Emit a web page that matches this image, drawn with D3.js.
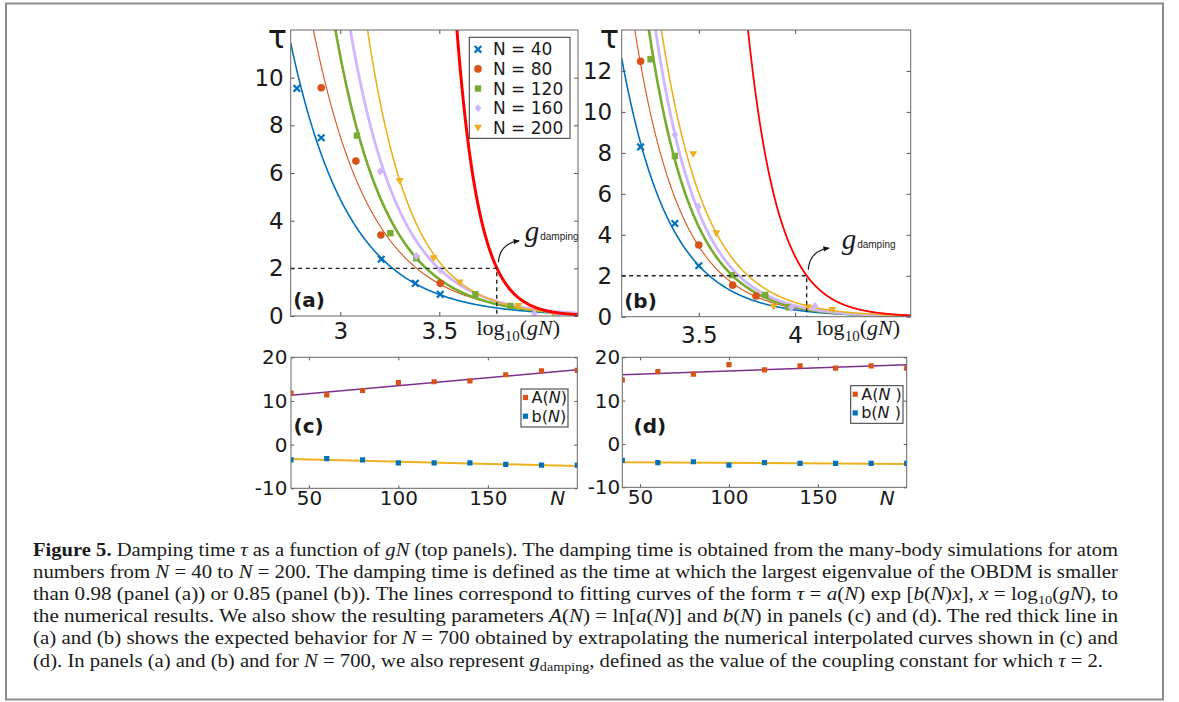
<!doctype html>
<html lang="en">
<head>
<meta charset="utf-8">
<script src="https://cdn.jsdelivr.net/npm/d3@7/dist/d3.min.js"></script>
<style>
body { margin: 0; background: #fff; }
svg text { font-family: "DejaVu Sans", sans-serif; fill: #1a1a1a; }
</style>
</head>
<body>
<script>
// ---- values ----
var seriesN = [40, 80, 120, 160, 200];
var extraN = 700;

// panel (a): tau against log10(gN)
var a40x = [2.781, 2.904, 3.207, 3.379, 3.505],  a40y = [9.55, 7.48, 2.38, 1.37, 0.91];
var a80x = [2.904, 3.079, 3.205, 3.505],         a80y = [9.58, 6.50, 3.40, 1.37];
var a120x = [3.084, 3.253, 3.384, 3.682, 3.859], a120y = [7.57, 3.47, 2.42, 0.91, 0.42];
var a160x = [3.202, 3.384, 3.505, 3.98, 4.10],   a160y = [6.06, 2.52, 1.93, 0.11, 0.08];
var a200x = [3.30, 3.471, 3.603, 3.90, 4.077],   a200y = [5.66, 2.42, 1.41, 0.42, 0.08];
// fitted curves tau = exp(lnA + b x), last entry is N = 700
var fitA_lnA = [11.76, 12.34, 14.12, 14.75, 16.92, 34.32];
var fitA_b   = [-3.39, -3.44, -3.91, -4.02, -4.60, -8.87];
var gDampA = 3.79;

// panel (b)
var b40x = [3.198, 3.376, 3.50],                 b40y = [8.29, 4.55, 2.49];
var b80x = [3.198, 3.50, 3.676, 3.797],          b80y = [12.47, 3.50, 1.54, 1.01];
var b120x = [3.25, 3.376, 3.672, 3.845, 3.966],  b120y = [12.57, 7.85, 2.03, 1.06, 0.46];
var b160x = [3.376, 3.497, 3.98, 4.103],         b160y = [8.89, 5.37, 0.45, 0.52];
var b200x = [3.471, 3.591, 3.888, 4.066, 4.193], b200y = [7.93, 4.07, 0.49, 0.46, 0.33];
var fitB_lnA = [15.09, 16.04, 17.16, 17.38, 16.92, 26.6];
var fitB_b   = [-4.05, -4.23, -4.48, -4.50, -4.32, -6.38];
var gDampB = 4.06;

// panels (c) and (d): fit parameters against N
var paramN = [40, 60, 80, 100, 120, 140, 160, 180, 200];
var cA = [11.8, 11.4, 12.4, 14.2, 14.4, 14.6, 16.0, 16.9, 17.0];
var cB = [-3.5, -3.2, -3.5, -4.2, -4.2, -4.2, -4.5, -4.7, -4.7];
var dA = [14.8, 16.7, 16.1, 18.3, 17.1, 18.0, 17.5, 18.0, 17.5];
var dB = [-3.8, -4.3, -4.1, -4.9, -4.3, -4.5, -4.5, -4.5, -4.5];
var lineN = [40, 200];
var cFitA = [11.3, 17.15], cFitB = [-3.3, -4.9];
var dFitA = [16.0, 18.3],  dFitB = [-4.2, -4.6];

var tickA = [3, 3.5], tickB = [3.5, 4], tickN = [50, 100, 150];
var tauTicksA = [0, 2, 4, 6, 8, 10], tauTicksB = [0, 2, 4, 6, 8, 10, 12];
var parTicks = [-10, 0, 10, 20];

// ---- styles ----
var col = ["#0072BD", "#D95319", "#77AC30", "#CFB6FF", "#EDB120"];
var shape = ["x", "o", "s", "d", "v"];
var lw = [1.6, 1.1, 2.6, 2.8, 1.6];

var svg = d3.select("body").append("svg").attr("width", 1179).attr("height", 702);
var defs = svg.append("defs");
defs.append("marker").attr("id", "arrow").attr("viewBox", "0 0 10 10")
    .attr("refX", 8).attr("refY", 5).attr("markerWidth", 6).attr("markerHeight", 6)
    .attr("orient", "auto")
  .append("path").attr("d", "M0,1 L10,5 L0,9 Z").attr("fill", "#111");

// figure frame
svg.append("rect").attr("x", 6).attr("y", 3.5).attr("width", 1157).attr("height", 696)
    .attr("fill", "none").attr("stroke", "#8c8c8c").attr("stroke-width", 2);

var clipCount = 0;
function makePanel(box, xd, yd, xt, yt, st) {
  var x = d3.scaleLinear().domain(xd).range([box.left, box.right]);
  var y = d3.scaleLinear().domain(yd).range([box.bottom, box.top]);
  var id = "clip" + (clipCount++);
  defs.append("clipPath").attr("id", id).append("rect")
      .attr("x", box.left).attr("y", box.top)
      .attr("width", box.right - box.left).attr("height", box.bottom - box.top);
  var fmt = function(d) { return String(d); };
  var none = function() { return ""; };
  function style(sel) {
    sel.select(".domain").remove();
    sel.selectAll(".tick line").attr("stroke", "#555");
    sel.selectAll(".tick text").attr("fill", "#1a1a1a")
       .style("font-size", st.fs + "px").style("font-family", '"DejaVu Sans", sans-serif');
  }
  svg.append("g").attr("transform", "translate(0," + box.bottom + ")")
     .call(d3.axisBottom(x).tickValues(xt).tickFormat(fmt).tickSizeInner(-st.tick).tickSizeOuter(0).tickPadding(st.padX))
     .call(style);
  svg.append("g").attr("transform", "translate(0," + box.top + ")")
     .call(d3.axisTop(x).tickValues(xt).tickFormat(none).tickSizeInner(-st.tick).tickSizeOuter(0))
     .call(style);
  svg.append("g").attr("transform", "translate(" + box.left + ",0)")
     .call(d3.axisLeft(y).tickValues(yt).tickFormat(fmt).tickSizeInner(-st.tick).tickSizeOuter(0).tickPadding(st.padY))
     .call(style);
  svg.append("g").attr("transform", "translate(" + box.right + ",0)")
     .call(d3.axisRight(y).tickValues(yt).tickFormat(none).tickSizeInner(-st.tick).tickSizeOuter(0))
     .call(style);
  var plot = svg.append("g").attr("clip-path", "url(#" + id + ")");
  return {x: x, y: y, plot: plot, box: box};
}
function frame(p) {
  var b = p.box;
  svg.append("rect").attr("x", b.left).attr("y", b.top)
     .attr("width", b.right - b.left).attr("height", b.bottom - b.top)
     .attr("fill", "none").attr("stroke", "#666").attr("stroke-width", 1);
}

function marker(g, s, cx, cy, c) {
  var m;
  if (s === "x") {
    m = g.append("path").attr("d", "M-3.3,-3.3L3.3,3.3M-3.3,3.3L3.3,-3.3")
         .attr("stroke", c).attr("stroke-width", 2.2).attr("fill", "none");
  } else if (s === "o") {
    m = g.append("circle").attr("r", 3.8).attr("fill", c);
  } else if (s === "s") {
    m = g.append("path").attr("d", "M-3.2,-3.2H3.2V3.2H-3.2Z").attr("fill", c);
  } else if (s === "d") {
    m = g.append("path").attr("d", "M0,-4.2L3.3,0L0,4.2L-3.3,0Z").attr("fill", c);
  } else if (s === "v") {
    m = g.append("path").attr("d", "M-4,-3L4,-3L0,3.8Z").attr("fill", c);
  } else {
    m = g.append("path").attr("d", "M-2.6,-2.6H2.6V2.6H-2.6Z").attr("fill", c);
  }
  m.attr("transform", "translate(" + cx + "," + cy + ")");
}

function fitCurve(p, lnA, b, c, w) {
  var d = p.x.domain(), top = p.y.domain()[1] * 2;
  var xs = d3.range(d[0], d[1] + 0.002, 0.004);
  p.plot.append("path").datum(xs)
    .attr("d", d3.line().x(function(v) { return p.x(v); })
                        .y(function(v) { return p.y(Math.min(top, Math.exp(lnA + b * v))); }))
    .attr("fill", "none").attr("stroke", c).attr("stroke-width", w);
}

function tauPanel(p, xs, ys, lnA, bb, gd, redW, lab, tauX, logX, gOff) {
  var i;
  for (i = 0; i < 5; i++) fitCurve(p, lnA[i], bb[i], col[i], lw[i]);
  for (i = 0; i < 5; i++) {
    for (var k = 0; k < xs[i].length; k++) marker(p.plot, shape[i], p.x(xs[i][k]), p.y(ys[i][k]), col[i]);
  }
  fitCurve(p, lnA[5], bb[5], "#FF0000", redW);
  // tau = 2 guide lines
  var px = p.x(gd), py = p.y(2);
  svg.append("path").attr("d", "M" + p.x(p.x.domain()[0]) + "," + py + "H" + px + "V" + p.y(0))
     .attr("fill", "none").attr("stroke", "#222").attr("stroke-width", 1.4).attr("stroke-dasharray", "4,3.5");
  svg.append("path")
     .attr("d", "M" + (px + 1.6) + "," + (py - 6) + "Q" + (px + 3) + "," + (py - 25) + " " + (px + 22) + "," + (py - 27.5))
     .attr("fill", "none").attr("stroke", "#111").attr("stroke-width", 1.1).attr("marker-end", "url(#arrow)");
  var gt = svg.append("text").attr("x", px + gOff[0]).attr("y", py + gOff[1]);
  gt.append("tspan").text("g").style("font-family", '"Liberation Serif", serif').style("font-style", "italic").style("font-size", "29px");
  gt.append("tspan").attr("dx", 1).attr("dy", -1).text("damping")
    .style("font-family", '"Liberation Sans", sans-serif').style("font-size", "10px");
  frame(p);
  // panel letter, tau, axis label
  svg.append("text").attr("x", p.box.left + 2.5).attr("y", p.box.bottom - 9).text(lab)
     .style("font-weight", "bold").style("font-size", "20px");
  svg.append("text").attr("x", tauX).attr("y", 47.5).attr("text-anchor", "end").text("τ")
     .style("font-size", "32px");
  var lt = svg.append("text").attr("x", logX).attr("y", 335)
     .style("font-family", '"Liberation Serif", serif').style("font-size", "22px");
  lt.append("tspan").text("log");
  lt.append("tspan").attr("dy", 6).style("font-size", "15px").text("10");
  lt.append("tspan").attr("dy", -6).text("(");
  lt.append("tspan").style("font-style", "italic").text("gN");
  lt.append("tspan").text(")");
}

// ---- panel (a) ----
var pa = makePanel({left: 290.7, right: 578, top: 30, bottom: 316}, [2.75, 4.2], [0, 12],
                   tickA, tauTicksA, {fs: 23, tick: 4, padX: 7, padY: 7});
tauPanel(pa, [a40x, a80x, a120x, a160x, a200x], [a40y, a80y, a120y, a160y, a200y],
         fitA_lnA, fitA_b, gDampA, 3, "(a)", 287, 476.5, [28, -27]);
// legend (a)
var lg = svg.append("g");
lg.append("rect").attr("x", 469.3).attr("y", 37.3).attr("width", 100.7).attr("height", 101)
  .attr("fill", "#fff").attr("stroke", "#333").attr("stroke-width", 1);
seriesN.forEach(function(n, i) {
  var yy = 49.3 + i * 19.6;
  marker(lg, shape[i], 478, yy, col[i]);
  lg.append("text").attr("x", 493).attr("y", yy + 6).text("N = " + n).style("font-size", "17px");
});

// ---- panel (b) ----
var pb = makePanel({left: 621.7, right: 910.7, top: 30, bottom: 316.7}, [3.1, 4.6], [0, 14],
                   tickB, tauTicksB, {fs: 23, tick: 4, padX: 10, padY: 9.5});
tauPanel(pb, [b40x, b80x, b120x, b160x, b200x], [b40y, b80y, b120y, b160y, b200y],
         fitB_lnA, fitB_b, gDampB, 1.8, "(b)", 619, 816.5, [35, -27]);

// ---- panels (c), (d) ----
function paramPanel(box, A, B, fitA, fitB, lab, labX, leg, padY) {
  var p = makePanel(box, [40, 200], [-10, 20], tickN, parTicks, {fs: 20, tick: 3, padX: 2, padY: padY});
  var ln = d3.line().x(function(d) { return p.x(d[0]); }).y(function(d) { return p.y(d[1]); });
  p.plot.append("path").datum(d3.zip(lineN, fitA)).attr("d", ln)
    .attr("fill", "none").attr("stroke", "#7E2F8E").attr("stroke-width", 1.5);
  p.plot.append("path").datum(d3.zip(lineN, fitB)).attr("d", ln)
    .attr("fill", "none").attr("stroke", "#EDB120").attr("stroke-width", 2);
  paramN.forEach(function(n, i) {
    marker(p.plot, "q", p.x(n), p.y(A[i]), "#D95319");
    marker(p.plot, "q", p.x(n), p.y(B[i]), "#0072BD");
  });
  frame(p);
  svg.append("text").attr("x", labX).attr("y", 433).text(lab)
     .style("font-weight", "bold").style("font-size", "20px");
  svg.append("text").attr("x", p.x(200) - 19.5).attr("y", 505).attr("text-anchor", "middle")
     .style("font-style", "italic").style("font-size", "20px").text("N");
  // legend
  var g = svg.append("g");
  g.append("rect").attr("x", leg.x).attr("y", leg.y).attr("width", leg.w).attr("height", leg.h)
   .attr("fill", "#fff").attr("stroke", "#333").attr("stroke-width", 1);
  [["A", "#D95319"], ["b", "#0072BD"]].forEach(function(e, i) {
    var yy = leg.y + 8.5 + i * 18.7;
    marker(g, "q", leg.x + 4.5, yy, e[1]);
    var t = g.append("text").attr("x", leg.x + 10.5).attr("y", yy + 5.5).style("font-size", "16px");
    t.append("tspan").text(e[0] + "(");
    t.append("tspan").style("font-style", "italic").text("N");
    t.append("tspan").text(leg.gap + ")");
  });
}
paramPanel({left: 291, right: 577.3, top: 357.3, bottom: 488.3}, cA, cB, cFitA, cFitB,
           "(c)", 293.5, {x: 521, y: 389, w: 47, h: 38, gap: ""}, 3.5);
paramPanel({left: 622.3, right: 906.7, top: 357.3, bottom: 487.3}, dA, dB, dFitA, dFitB,
           "(d)", 633.5, {x: 850.7, y: 385.7, w: 52.3, h: 37.6, gap: " "}, 2);

// ---- caption ----
var capLines = [
  [["Figure 5.", "b"], [" Damping time "], ["τ", "i"], [" as a function of "], ["gN", "i"],
   [" (top panels). The damping time is obtained from the many-body simulations for atom"]],
  [["numbers from "], ["N", "i"], [" = 40 to "], ["N", "i"],
   [" = 200. The damping time is defined as the time at which the largest eigenvalue of the OBDM is smaller"]],
  [["than 0.98 (panel (a)) or 0.85 (panel (b)). The lines correspond to fitting curves of the form "],
   ["τ", "i"], [" = "], ["a", "i"], ["("], ["N", "i"], [") exp ["], ["b", "i"], ["("], ["N", "i"], [")"],
   ["x", "i"], ["], "], ["x", "i"], [" = log"], ["10", "s"], ["("], ["gN", "i"], ["), to"]],
  [["the numerical results. We also show the resulting parameters "], ["A", "i"], ["("], ["N", "i"],
   [") = ln["], ["a", "i"], ["("], ["N", "i"], [")] and "], ["b", "i"], ["("], ["N", "i"],
   [") in panels (c) and (d). The red thick line in"]],
  [["(a) and (b) shows the expected behavior for "], ["N", "i"],
   [" = 700 obtained by extrapolating the numerical interpolated curves shown in (c) and"]],
  [["(d). In panels (a) and (b) and for "], ["N", "i"], [" = 700, we also represent "], ["g", "i"],
   ["damping", "s"], [", defined as the value of the coupling constant for which "], ["τ", "i"], [" = 2."]]
];
var capBase = [555.5, 577.7, 600, 622.2, 644.4, 666.6];
var capLen = [1085, 1085, 1085, 1085, 1085, 1070];
capLines.forEach(function(segs, li) {
  var t = svg.append("text").attr("x", 33).attr("y", capBase[li])
     .attr("textLength", capLen[li]).attr("lengthAdjust", "spacingAndGlyphs")
     .style("font-family", '"Liberation Serif", serif').style("font-size", "19px");
  var sub = false;
  segs.forEach(function(s) {
    var ts = t.append("tspan").text(s[0]);
    if (s[1] === "b") ts.style("font-weight", "bold");
    if (s[1] === "i") ts.style("font-style", "italic");
    if (s[1] === "s") { ts.attr("dy", 4).style("font-size", "13px"); sub = true; }
    else if (sub) { ts.attr("dy", -4); sub = false; }
  });
});
</script>
</body>
</html>
